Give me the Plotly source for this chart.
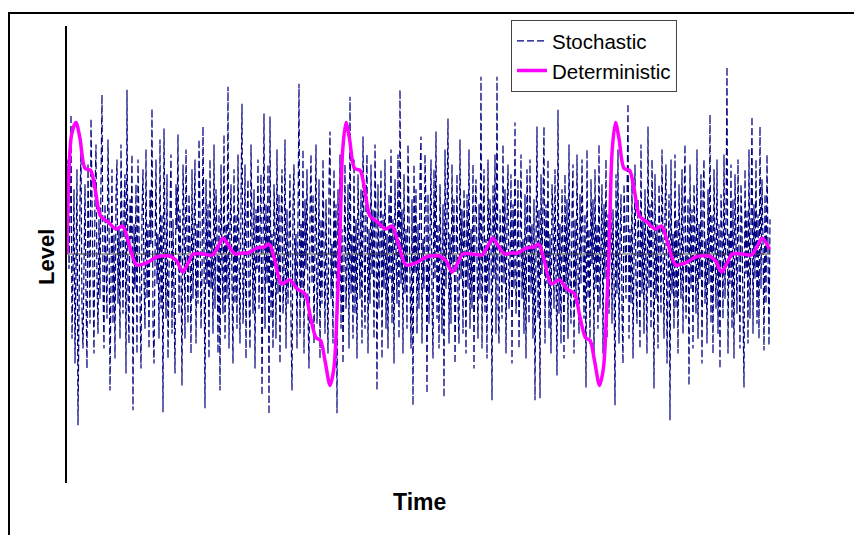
import plotly.graph_objects as go

# ---------------- data ----------------
# Stochastic series: one sample per time step (t = 0..703), level units
stochastic = [
    0.10, 0.95, -0.15, 0.40, 1.40, -0.85, -0.20, 0.65, -1.10, 0.30, 0.85, -1.72, -0.35, 0.55, 1.05, -0.60,
    -0.95, 0.25, 0.70, -0.40, -1.15, 0.90, 0.15, -0.70, 1.36, 0.45, -0.55, -1.00, 0.60, 1.10, -0.25, -0.80,
    0.35, -0.45, 0.75, 1.60, -0.30, -0.95, 0.50, 0.05, -0.65, 1.15, 0.40, -1.37, -0.20, 0.85, -0.70, 0.20,
    -1.05, 0.60, 0.95, -0.50, 0.25, -0.85, 1.10, -0.15, -0.60, 0.45, 0.80, -1.20, 1.65, -0.40, -0.90, 0.55,
    0.15, 1.00, -1.57, 0.30, -0.35, 0.70, -1.00, 0.95, 0.20, -0.55, -1.15, 0.40, 0.85, -0.25, -0.75, 1.05,
    -0.45, 0.30, -0.95, 0.65, 0.10, 1.46, -0.70, -1.10, 0.50, 0.95, -0.30, 0.20, -0.85, 1.15, -0.55, 0.40,
    -1.59, 1.26, 0.15, -0.65, 0.80, -1.05, -0.20, 0.55, 1.00, -0.80, 0.35, -0.40, -1.20, 0.70, 0.25, 1.20,
    -0.60, 0.45, -0.15, -1.32, 0.90, 0.35, -0.85, 1.05, -0.25, -0.70, 0.60, 0.10, -1.00, 0.85, -0.45, 0.20,
    0.95, -0.90, 0.30, -0.50, 1.15, 0.40, -0.75, -0.20, 1.28, 0.05, -1.55, 0.75, -0.30, 0.50, -1.05, 0.95,
    -0.35, 0.15, -0.80, 1.10, -0.55, 0.65, 0.20, -1.00, 0.45, -1.37, 0.90, -0.10, -0.60, 1.20, -0.85, 0.30,
    -0.45, 1.68, -0.95, 0.25, 0.70, -0.30, -1.10, 0.85, -0.50, 0.40, -0.75, 1.00, 0.10, -0.90, 0.55, 1.51,
    -0.70, -0.25, 0.90, -1.05, 0.35, 0.75, -0.40, -0.95, 1.10, 0.20, -0.60, 0.65, -1.15, 0.45, -0.15, 0.95,
    -0.55, 0.30, 0.80, -1.42, 0.05, 1.41, -0.75, 0.50, -0.30, 0.90, -1.61, 1.38, -0.65, 0.20, -0.95, 0.70,
    0.25, -0.85, 1.05, -0.40, 0.60, -1.10, 0.35, 0.85, -0.60, -0.20, 1.15, -0.95, 0.45, -0.50, 0.15, 0.80,
    -0.70, -1.37, 0.50, 0.90, -0.35, 0.20, -0.95, 0.65, 1.71, -0.80, 0.30, -0.45, 1.05, -1.00, 0.55, -0.15,
    0.85, -0.60, -1.15, 0.40, 1.00, -0.30, 0.60, -0.90, 0.15, 1.10, -0.70, -0.25, 0.75, -1.05, 0.35, -0.50,
    0.95, 0.30, -0.80, 0.55, -0.35, -1.00, 0.70, 1.23, -0.45, 0.10, -0.90, 0.85, -0.20, 0.50, -1.60, 0.65,
    -0.30, 1.00, -0.75, 0.25, -1.10, 0.45, 0.90, -0.55, -0.15, 0.70, -0.95, 1.58, -0.40, 0.20, -0.85, 0.95,
    -0.60, 0.35, -1.05, 0.80, 0.10, -0.45, 0.65, -0.90, 1.18, -0.30, -0.75, 0.55, 1.00, -1.00, 0.25, -0.50,
    0.90, -0.20, 0.45, -0.85, 1.10, 0.30, -1.37, 0.70, -0.55, 0.15, 0.85, -1.05, 0.40, -0.35, 0.95, -0.75,
    0.20, -0.95, 0.60, -0.25, 1.05, -0.70, 0.35, -1.10, 0.75, 0.05, -0.50, 1.00, -0.85, 1.65, -0.30, 0.45,
    -1.00, 0.80, -0.40, 0.25, -0.75, 1.10, 0.40, -0.60, -0.95, 0.55, -1.52, 0.90, -0.20, 0.65, -0.80, 0.30,
    -0.55, 0.75, 1.18, -0.90, 0.15, -0.35, 1.00, 0.45, -1.40, 0.60, -0.70, 0.20, 0.95, -0.45, -1.05, 0.85,
    -0.25, 1.23, -0.65, 0.30, -0.95, 0.70, 0.10, -0.80, 0.50, -1.44, 1.05, -0.35, 0.40, 1.36, -0.90, 0.20,
    -0.70, 0.90, -0.15, 0.55, -1.10, 0.35, 0.80, -0.50, -0.90, 1.15, -0.25, 0.45, -0.80, 0.65, 0.05, -1.00,
    0.60, -0.35, 1.05, -0.75, 0.25, -0.55, 0.90, -1.15, 0.40, 0.75, -0.20, -0.85, 0.50, -0.45, 1.78, -0.95,
    0.30, 0.85, -0.60, 0.15, -1.05, 0.95, -0.40, 0.55, 0.20, -1.47, 0.70, -0.25, 1.00, -0.80, 1.78, -0.50,
    -0.90, 0.45, 0.10, -0.65, 1.10, -0.30, 0.65, -1.00, 0.35, 0.90, -0.55, -0.15, 0.80, -1.10, 0.50, -0.35,
    1.32, -0.60, -0.20, 0.75, -0.95, 0.40, 1.00, -0.45, 0.15, -0.80, 0.60, -1.05, 0.85, 0.25, -0.70, 0.95,
    -0.40, 0.30, -0.85, 0.55, -1.47, 0.10, 1.28, -0.65, 0.45, -1.45, 0.80, -0.20, 0.35, 1.28, -0.90, 0.50,
    -0.30, 0.95, -0.75, 0.20, -1.00, 0.70, 0.40, -0.55, 0.85, -0.15, -1.22, 1.45, -0.60, 0.30, -0.90, 0.65,
    0.10, -1.05, 0.80, -0.40, 0.55, -0.85, 1.10, -0.25, -0.70, 0.45, 0.90, -1.00, 0.35, -0.50, 1.00, -0.20,
    -0.80, 0.60, -0.30, 0.95, 0.20, -0.65, 0.40, -1.34, 1.05, -0.45, 0.25, -0.90, 0.75, -0.10, 0.55, -1.05,
    0.85, -0.35, 0.30, -0.75, 1.10, -0.55, 0.05, 0.70, -1.00, 0.50, -0.25, 0.95, -0.85, 0.40, -0.60, 0.20,
    0.90, -0.70, 0.45, -0.20, -1.52, 0.80, -0.40, 1.05, -0.90, 0.15, 0.60, -0.55, -1.10, 0.70, 0.30, -0.45,
    0.95, 1.51, -0.85, 0.25, -0.50, 0.75, -1.05, 0.40, 0.90, -0.30, -0.70, 0.55, 0.10, -0.95, 1.10, -0.40,
    0.35, -0.80, 0.65, -0.15, -1.00, 1.28, -0.35, 0.50, -0.75, 0.95, 0.20, -1.35, 0.80, -0.45, 0.30, -0.95,
    0.70, 0.15, -0.60, 1.05, -0.30, -0.85, 0.45, 0.90, -1.10, 0.25, 0.60, -1.67, 0.95, -0.40, 0.20, -0.75,
    1.00, -0.55, 0.35, -1.00, 0.70, 0.05, -0.45, 0.85, -0.80, 0.40, 1.10, -0.65, -0.20, 0.55, -1.32, 0.90,
    -0.35, 0.45, -0.95, 0.70, 0.20, -0.60, 1.05, -0.85, 0.30, -0.25, 0.80, -1.10, 0.55, 0.95, -0.50, 0.15,
    -0.90, 0.65, -0.30, 1.40, -0.70, 0.40, -1.00, 0.85, 0.10, -0.55, 0.95, -0.80, 0.30, -1.15, 0.60, 0.25,
    -0.65, 1.00, -0.45, 0.35, 1.88, -1.00, 0.20, -0.30, 0.90, -0.75, 0.55, -1.05, 0.80, 0.15, -0.60, 0.95,
    -0.40, -0.95, 0.70, 0.25, -0.55, -1.34, 0.85, -0.20, 0.45, -0.90, 1.05, -0.65, 0.30, 1.38, -0.80, 0.50,
    -0.25, 0.95, -0.70, 0.40, -0.85, 1.28, -0.35, 0.75, 0.15, -0.97, 0.60, -0.50, 1.00, -0.30, -0.92, 0.35,
]
stochastic_time = list(range(len(stochastic)))

# Deterministic series: (time, level) points
deterministic_time = [
    0.0, 4.6, 9.0, 13.0, 18.0, 23.6, 28.0, 33.6, 41.2, 49.0, 55.6, 61.2, 69.6, 79.6, 89.6, 103.0,
    109.6, 115.6, 121.2, 126.2, 136.2, 145.6, 151.2, 156.2, 161.2, 168.0, 174.6, 181.2, 189.6, 197.0, 202.2, 207.2,
    214.6, 223.0, 230.2, 238.0, 243.6, 249.0, 253.6, 258.0, 263.0, 267.0, 270.2, 273.0, 275.6, 279.0,
    282.5, 287.5, 293.1, 297.5, 303.1, 310.7, 318.5, 325.1, 330.7, 339.1, 349.1, 359.1,
    372.5, 379.1, 385.1, 390.7, 395.7, 405.7, 415.1, 420.7, 425.7, 430.7, 437.5, 444.1,
    450.7, 459.1, 466.5, 471.7, 476.7, 484.1, 492.5, 499.7, 507.5, 513.1, 518.5, 523.1,
    527.5, 532.5, 536.5, 539.7, 542.5, 545.1, 548.5,
    552.0, 557.0, 562.6, 567.0, 572.6, 580.2, 588.0, 594.6, 600.2, 608.6, 618.6, 628.6,
    642.0, 648.6, 654.6, 660.2, 665.2, 675.2, 684.6, 690.2, 695.2, 702.4,
]
deterministic = [
    0.00, 1.20, 1.32, 1.16, 0.86, 0.84, 0.66, 0.38, 0.32, 0.25, 0.28, 0.13, -0.11, -0.09, -0.03, -0.02,
    -0.07, -0.18, -0.09, 0.00, 0.00, -0.01, 0.08, 0.16, 0.09, 0.00, 0.01, 0.01, 0.06, 0.07, 0.10, -0.04,
    -0.30, -0.26, -0.35, -0.40, -0.64, -0.84, -0.87, -1.07, -1.32, -1.14, -0.54, 0.20, 1.03, 1.32,
    1.16, 0.86, 0.84, 0.66, 0.38, 0.32, 0.25, 0.28, 0.13, -0.11, -0.09, -0.03,
    -0.02, -0.07, -0.18, -0.09, 0.00, 0.00, -0.01, 0.08, 0.16, 0.09, 0.00, 0.01,
    0.01, 0.06, 0.07, 0.10, -0.04, -0.30, -0.26, -0.35, -0.40, -0.64, -0.84, -0.87,
    -1.07, -1.32, -1.14, -0.54, 0.20, 1.03, 1.32,
    1.16, 0.86, 0.84, 0.66, 0.38, 0.32, 0.25, 0.28, 0.13, -0.11, -0.09, -0.03,
    -0.02, -0.07, -0.18, -0.09, 0.00, 0.00, -0.01, 0.08, 0.16, 0.05,
]

series_names = ["Stochastic", "Deterministic"]
axis_titles = {"x": "Time", "y": "Level"}

# ---------------- figure ----------------
FONT = "Liberation Sans, Arial, Helvetica, sans-serif"
OFF = 8                      # page body margin
W, H = 862 - OFF, 535 - OFF
ML, MR, MT, MB = 59, 12, 16, 52
PW, PH = W - ML - MR, H - MT - MB

fig = go.Figure()

fig.add_trace(go.Scatter(
    x=stochastic_time, y=stochastic, mode="lines", name=series_names[0],
    line=dict(color="#000080", width=1.2, dash="7px,3px"),
))
fig.add_trace(go.Scatter(
    x=[stochastic_time[0], stochastic_time[-1]], y=[0, 0], mode="lines",
    line=dict(color="#555555", width=1), showlegend=False, hoverinfo="skip",
))
fig.add_trace(go.Scatter(
    x=deterministic_time, y=deterministic, mode="lines", name=series_names[1],
    line=dict(color="#FF00FF", width=3.5, shape="spline", smoothing=0.8),
))


def px_x(p):
    """page x pixel -> paper coordinate"""
    return (p - OFF - ML) / PW


def px_y(p):
    """page y pixel -> paper coordinate"""
    return (MT + PH - (p - OFF)) / PH


fig.update_layout(
    width=W, height=H,
    margin=dict(l=ML, r=MR, t=MT, b=MB, pad=0),
    paper_bgcolor="white", plot_bgcolor="white",
    font=dict(family=FONT, color="black"),
    showlegend=True,
    legend=dict(
        x=px_x(511), y=px_y(18), xanchor="left", yanchor="top",
        bgcolor="white", bordercolor="#444444", borderwidth=1,
        font=dict(family=FONT, size=20.5, color="black"),
        tracegroupgap=0, itemwidth=30,
    ),
    xaxis=dict(range=[0, PW], showline=False, showgrid=False, zeroline=False,
               showticklabels=False, ticks=""),
    yaxis=dict(range=[-2.30, 2.29], showline=True, linecolor="black", linewidth=2,
               showgrid=False, zeroline=False, showticklabels=False, ticks=""),
    annotations=[
        dict(text="<b>" + axis_titles["y"] + "</b>", xref="paper", yref="paper",
             x=px_x(47), y=px_y(256), textangle=-90, showarrow=False,
             font=dict(family=FONT, size=22, color="black"),
             xanchor="center", yanchor="middle"),
        dict(text="<b>" + axis_titles["x"] + "</b>", xref="paper", yref="paper",
             x=px_x(419), y=px_y(502), showarrow=False,
             font=dict(family=FONT, size=23, color="black"),
             xanchor="center", yanchor="middle"),
    ],
    shapes=[
        dict(type="line", xref="paper", yref="paper", x0=px_x(9), x1=px_x(9),
             y0=px_y(11), y1=px_y(545), line=dict(color="black", width=2)),
        dict(type="line", xref="paper", yref="paper", x0=px_x(8), x1=px_x(870),
             y0=px_y(11), y1=px_y(11), line=dict(color="black", width=2)),
    ],
)

fig.write_html("out.html")
